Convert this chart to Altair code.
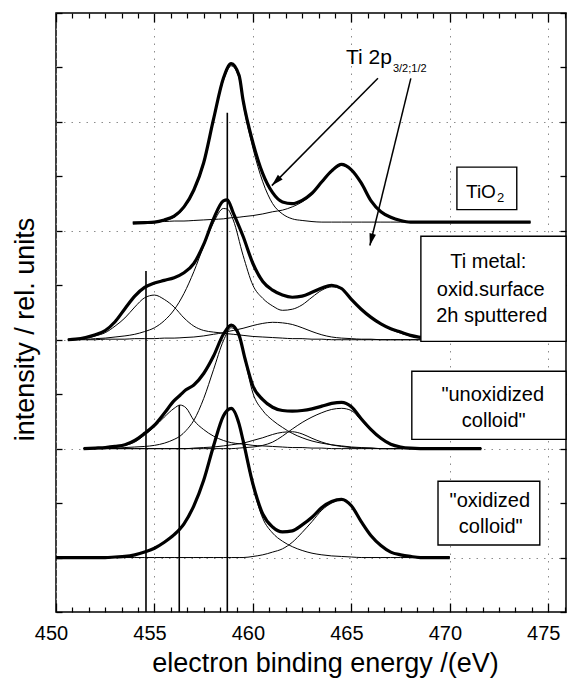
import math
import altair as alt
import pandas as pd

FONT = "Liberation Sans"
X_MIN, X_MAX = 450.0, 475.9
Y_MIN, Y_MAX = 0.0, 11.0
W, H = 510, 599

# ---------------- spectra ----------------
TIO2_X = [453.9, 454.5, 455, 455.5, 456, 456.5, 457, 457.5, 458, 458.5, 458.9, 459.3, 459.5, 460,
          460.5, 461, 461.5, 462, 462.5, 463, 463.5, 464, 464.5, 465, 465.5, 466, 466.5, 467,
          467.5, 468, 469, 470, 471, 472, 473, 474.1]
TIO2_DATA = [7.14, 7.15, 7.16, 7.2, 7.27, 7.44, 7.75, 8.25, 9.05, 9.8, 10.07, 9.85, 9.4, 8.62,
             8.05, 7.7, 7.53, 7.5, 7.56, 7.69, 7.9, 8.1, 8.22, 8.12, 7.88, 7.55, 7.35, 7.25,
             7.19, 7.16, 7.16, 7.16, 7.16, 7.16, 7.16, 7.16]
TIO2_C1 = [7.14, 7.15, 7.15, 7.19, 7.25, 7.42, 7.73, 8.22, 9.02, 9.76, 10.03, 9.8, 9.35, 8.52,
           7.9, 7.5, 7.31, 7.22, 7.19, 7.17, 7.16, 7.16, 7.16, 7.16, 7.16, 7.16, 7.16, 7.16,
           7.16, 7.16, 7.16, 7.16, 7.16, 7.16, 7.16, 7.16]
TIO2_C2 = [7.16, 7.16, 7.17, 7.17, 7.18, 7.18, 7.19, 7.2, 7.21, 7.22, 7.24, 7.25, 7.26, 7.28,
           7.31, 7.35, 7.38, 7.44, 7.53, 7.67, 7.89, 8.08, 8.2, 8.11, 7.87, 7.54, 7.34, 7.24,
           7.18, 7.16, 7.16, 7.16, 7.16, 7.16, 7.16, 7.16]

TI_X = [450.6, 451, 451.5, 452, 452.5, 453, 453.5, 454, 454.5, 455, 455.5, 456, 456.5, 457,
        457.5, 458, 458.5, 458.7, 459, 459.5, 460, 460.5, 461, 461.5, 462, 462.5, 463, 463.5,
        464, 464.5, 465, 465.5, 466, 466.5, 467, 467.5, 468, 469, 470]
TI_DATA = [5.0, 5.01, 5.04, 5.09, 5.17, 5.33, 5.57, 5.8, 5.96, 6.04, 6.09, 6.14, 6.23, 6.4,
           6.75, 7.22, 7.55, 7.57, 7.33, 6.9, 6.4, 6.07, 5.91, 5.82, 5.78, 5.8, 5.87, 5.95,
           6.0, 5.94, 5.74, 5.56, 5.41, 5.29, 5.2, 5.14, 5.08, 5.02, 5.0]
TI_C1 = [5.0, 5.01, 5.03, 5.07, 5.13, 5.25, 5.4, 5.6, 5.77, 5.82, 5.74, 5.6, 5.4, 5.25,
         5.17, 5.14, 5.12, 5.11, 5.1, 5.08, 5.06, 5.05, 5.04, 5.03, 5.02, 5.02, 5.01, 5.01,
         5.0, 5.0, 5.0, 5.0, 5.0, 5.0, 5.0, 5.0, 5.0, 5.0, 5.0]
TI_C2 = [5.0, 5.01, 5.01, 5.02, 5.03, 5.05, 5.07, 5.1, 5.15, 5.22, 5.35, 5.55, 5.85, 6.25,
         6.72, 7.15, 7.41, 7.4, 7.2, 6.55, 6.0, 5.76, 5.62, 5.54, 5.56, 5.64, 5.78, 5.91,
         5.97, 5.93, 5.74, 5.55, 5.4, 5.28, 5.19, 5.12, 5.07, 5.02, 5.0]
TI_C3 = [5.0, 5.0, 5.0, 5.0, 5.01, 5.01, 5.01, 5.02, 5.02, 5.02, 5.03, 5.03, 5.04, 5.05,
         5.07, 5.1, 5.13, 5.15, 5.17, 5.21, 5.26, 5.3, 5.32, 5.31, 5.28, 5.22, 5.15, 5.09,
         5.05, 5.03, 5.02, 5.01, 5.01, 5.0, 5.0, 5.0, 5.0, 5.0, 5.0]

UNOX_X = [451.4, 452, 452.5, 453, 453.5, 454, 454.5, 455, 455.5, 456, 456.3, 456.6, 457, 457.5,
          458, 458.5, 458.9, 459.3, 459.6, 460, 460.5, 461, 461.5, 462, 462.5, 463, 463.5, 464,
          464.5, 465, 465.5, 466, 466.5, 467, 467.5, 468, 469, 470, 471.6]
UNOX_DATA = [3.0, 3.01, 3.02, 3.04, 3.07, 3.15, 3.28, 3.43, 3.65, 3.88, 3.98, 4.08, 4.17, 4.38,
             4.7, 5.1, 5.27, 5.08, 4.65, 4.15, 3.9, 3.76, 3.7, 3.69, 3.7, 3.73, 3.78, 3.83,
             3.85, 3.77, 3.55, 3.35, 3.19, 3.08, 3.03, 3.01, 3.0, 3.0, 3.0]
UNOX_C1 = [3.0, 3.01, 3.02, 3.03, 3.06, 3.12, 3.25, 3.4, 3.58, 3.74, 3.8, 3.75, 3.52, 3.35,
           3.23, 3.15, 3.11, 3.09, 3.08, 3.06, 3.05, 3.04, 3.03, 3.02, 3.02, 3.01, 3.01, 3.0,
           3.0, 3.0, 3.0, 3.0, 3.0, 3.0, 3.0, 3.0, 3.0, 3.0, 3.0]
UNOX_C2 = [3.0, 3.0, 3.01, 3.01, 3.02, 3.03, 3.04, 3.06, 3.1, 3.17, 3.23, 3.33, 3.52, 3.92,
           4.45, 4.98, 5.22, 5.05, 4.62, 4.02, 3.7, 3.52, 3.39, 3.28, 3.2, 3.14, 3.1, 3.07,
           3.05, 3.03, 3.02, 3.01, 3.0, 3.0, 3.0, 3.0, 3.0, 3.0, 3.0]
UNOX_C3 = [3.0, 3.0, 3.0, 3.0, 3.0, 3.0, 3.0, 3.0, 3.0, 3.0, 3.0, 3.0, 3.01, 3.02,
           3.03, 3.05, 3.07, 3.09, 3.11, 3.15, 3.2, 3.26, 3.3, 3.31, 3.27, 3.19, 3.12, 3.07,
           3.04, 3.02, 3.01, 3.01, 3.0, 3.0, 3.0, 3.0, 3.0, 3.0, 3.0]
UNOX_C4 = [3.0, 3.0, 3.0, 3.0, 3.0, 3.0, 3.0, 3.0, 3.0, 3.0, 3.0, 3.0, 3.0, 3.0,
           3.0, 3.0, 3.0, 3.01, 3.02, 3.03, 3.06, 3.12, 3.23, 3.36, 3.48, 3.58, 3.66, 3.72,
           3.74, 3.7, 3.52, 3.33, 3.18, 3.08, 3.03, 3.01, 3.0, 3.0, 3.0]

OX_X = [450, 451, 452, 452.5, 453, 453.5, 454, 454.5, 455, 455.5, 456, 456.5, 457, 457.5,
        458, 458.5, 458.9, 459.3, 459.5, 460, 460.5, 461, 461.5, 462, 462.5, 463, 463.5, 464,
        464.5, 465, 465.5, 466, 466.5, 467, 467.5, 468, 468.5, 469, 470]
OX_DATA = [1.0, 1.0, 1.0, 1.0, 1.01, 1.02, 1.05, 1.1, 1.17, 1.28, 1.42, 1.62, 1.95, 2.42,
           3.05, 3.6, 3.74, 3.45, 3.15, 2.35, 1.8, 1.56, 1.47, 1.49, 1.6, 1.74, 1.92, 2.03,
           2.07, 1.95, 1.66, 1.4, 1.22, 1.1, 1.05, 1.02, 1.0, 1.0, 1.0]
OX_C1 = [1.0, 1.0, 1.0, 1.0, 1.01, 1.02, 1.05, 1.1, 1.17, 1.28, 1.42, 1.62, 1.95, 2.42,
         3.05, 3.6, 3.74, 3.44, 3.12, 2.3, 1.72, 1.45, 1.3, 1.2, 1.13, 1.08, 1.05, 1.03,
         1.02, 1.01, 1.0, 1.0, 1.0, 1.0, 1.0, 1.0, 1.0, 1.0, 1.0]
OX_C2 = [1.0, 1.0, 1.0, 1.0, 1.0, 1.0, 1.0, 1.0, 1.0, 1.0, 1.0, 1.0, 1.0, 1.0,
         1.0, 1.0, 1.0, 1.0, 1.0, 1.02, 1.05, 1.1, 1.16, 1.28, 1.46, 1.66, 1.87, 2.0,
         2.06, 1.94, 1.66, 1.4, 1.22, 1.1, 1.05, 1.02, 1.0, 1.0, 1.0]

# ---------------- annotations ----------------
VLINE_X = [454.57, 456.26, 458.70]
VLINE_TOP = [6.26, 3.80, 9.17]

BOX_X1 = [470.36, 468.53, 468.07, 469.40]
BOX_X2 = [473.40, 475.90, 475.90, 474.57]
BOX_Y1 = [7.39, 4.97, 3.17, 1.23]
BOX_Y2 = [8.17, 6.90, 4.42, 2.40]

LABEL_TEXT = ["Ti metal:", "oxid.surface", "2h sputtered", "\"unoxidized", "colloid\"",
              "\"oxidized", "colloid\""]
LABEL_X = [471.95, 472.08, 472.13, 472.18, 472.23, 472.03, 472.08]
LABEL_Y = [6.31, 5.81, 5.32, 3.87, 3.39, 1.93, 1.45]

ARROW_X1 = [466.35, 468.02]
ARROW_Y1 = [9.80, 9.80]
ARROW_X2 = [460.96, 465.94]
ARROW_Y2 = [7.83, 6.73]

X_MAJOR = [450, 455, 460, 465, 470, 475]
X_MINOR = [450 + k * 5 / 6 for k in range(1, 32) if k % 6 != 0]
Y_TICKS = list(range(0, 12))
Y_GRID = [1, 3, 5, 7, 9]

# ---------------- tables ----------------
def long_table(items):
    rows = []
    for name, xs, ys in items:
        for i, (xv, yv) in enumerate(zip(xs, ys)):
            rows.append({"curve": name, "x": xv, "y": yv, "i": i})
    return pd.DataFrame(rows)

thin_df = long_table([
    ("tio2_c1", TIO2_X, TIO2_C1), ("tio2_c2", TIO2_X, TIO2_C2),
    ("ti_c1", TI_X, TI_C1), ("ti_c2", TI_X, TI_C2), ("ti_c3", TI_X, TI_C3),
    ("unox_c1", UNOX_X, UNOX_C1), ("unox_c2", UNOX_X, UNOX_C2),
    ("unox_c3", UNOX_X, UNOX_C3), ("unox_c4", UNOX_X, UNOX_C4),
    ("ox_c1", OX_X, OX_C1), ("ox_c2", OX_X, OX_C2),
])
thick_df = long_table([
    ("tio2", TIO2_X, TIO2_DATA), ("ti", TI_X, TI_DATA),
    ("unox", UNOX_X, UNOX_DATA), ("ox", OX_X, OX_DATA),
])
vline_df = pd.DataFrame({"x": VLINE_X, "y": [0.0] * len(VLINE_X), "y2": VLINE_TOP})
box_df = pd.DataFrame({"x": BOX_X1, "x2": BOX_X2, "y": BOX_Y1, "y2": BOX_Y2})
label_df = pd.DataFrame({"x": LABEL_X, "y": LABEL_Y, "t": LABEL_TEXT})

px_x = W / (X_MAX - X_MIN)
px_y = H / (Y_MAX - Y_MIN)
angles = []
for a, b, c, d in zip(ARROW_X1, ARROW_Y1, ARROW_X2, ARROW_Y2):
    dx = (c - a) * px_x
    dy = -(d - b) * px_y
    angles.append(math.degrees(math.atan2(dx, -dy)) % 360)
arrow_df = pd.DataFrame({"x": ARROW_X1, "y": ARROW_Y1, "x2": ARROW_X2, "y2": ARROW_Y2,
                         "angle": angles})

xs = alt.Scale(domain=[X_MIN, X_MAX], nice=False, zero=False)
ys = alt.Scale(domain=[Y_MIN, Y_MAX], nice=False, zero=False)

# ---------------- axes ----------------
ax_bottom_major = alt.Axis(
    orient="bottom", values=X_MAJOR, format="d", tickSize={"expr": "-9"}, tickWidth=1.3,
    tickColor="black", domain=False, labelFont=FONT, labelFontSize=20, labelColor="black",
    labelPadding=20, labelOffset=-5, labelFlush=False, labelOverlap=False,
    grid=True, gridColor="#8c8c8c", gridDash=[1.5, 6], gridWidth=1,
    title="electron binding energy /(eV)", titleFont=FONT, titleFontSize=27,
    titleFontWeight="normal", titleColor="black", titleX=269, titleY=59,
    titleBaseline="alphabetic", titleAlign="center")
ax_bottom_minor = alt.Axis(
    orient="bottom", values=X_MINOR, tickSize={"expr": "-5"}, tickWidth=1.2,
    tickColor="black", domain=False, labels=False, grid=False, title=None)
ax_top_major = alt.Axis(
    orient="top", values=X_MAJOR, tickSize={"expr": "-9"}, tickWidth=1.3,
    tickColor="black", domain=False, labels=False, grid=False, title=None)
ax_top_minor = alt.Axis(
    orient="top", values=X_MINOR, tickSize={"expr": "-5"}, tickWidth=1.2,
    tickColor="black", domain=False, labels=False, grid=False, title=None)
ax_left = alt.Axis(
    orient="left", values=Y_TICKS, tickSize={"expr": "-6"}, tickWidth=1.3,
    tickColor="black", domain=False, labels=False, grid=False,
    title="intensity / rel. units", titleFont=FONT, titleFontSize=27,
    titleFontWeight="normal", titleColor="black", titleX=-23, titleY=316,
    titleBaseline="alphabetic", titleAlign="center", titleAngle=270)
ax_left_grid = alt.Axis(
    orient="left", values=Y_GRID, ticks=False, domain=False, labels=False,
    grid=True, gridColor="#8c8c8c", gridDash=[1.5, 6], gridWidth=1, title=None)
ax_right = alt.Axis(
    orient="right", values=Y_TICKS, tickSize={"expr": "-6"}, tickWidth=1.3,
    tickColor="black", domain=False, labels=False, grid=False, title=None)

# ---------------- layers ----------------
thin_layer = alt.Chart(thin_df).mark_line(
    color="black", strokeWidth=1.0, interpolate="monotone").encode(
    x=alt.X("x:Q", scale=xs, axis=ax_bottom_major),
    y=alt.Y("y:Q", scale=ys, axis=ax_left),
    detail="curve:N", order="i:Q")

thick_layer = alt.Chart(thick_df).mark_line(
    color="black", strokeWidth=3.2, interpolate="monotone").encode(
    x=alt.X("x:Q", scale=xs, axis=ax_bottom_minor),
    y=alt.Y("y:Q", scale=ys, axis=ax_left_grid),
    detail="curve:N", order="i:Q")

vline_layer = alt.Chart(vline_df).mark_rule(color="black", strokeWidth=1.6).encode(
    x=alt.X("x:Q", scale=xs, axis=ax_top_major),
    y=alt.Y("y:Q", scale=ys, axis=ax_right),
    y2="y2:Q")

box_layer = alt.Chart(box_df).mark_rect(
    fill="white", stroke="black", strokeWidth=1.4).encode(
    x=alt.X("x:Q", scale=xs, axis=None), x2="x2:Q",
    y=alt.Y("y:Q", scale=ys, axis=None), y2="y2:Q")

arrow_layer = alt.Chart(arrow_df).mark_rule(color="black", strokeWidth=1.5).encode(
    x=alt.X("x:Q", scale=xs, axis=ax_top_minor), x2="x2:Q",
    y=alt.Y("y:Q", scale=ys, axis=None), y2="y2:Q")

head_layer = alt.Chart(arrow_df).mark_point(
    shape="M0,0L0.36,1.3L-0.36,1.3Z", filled=True, color="black", opacity=1,
    size=340).encode(
    x=alt.X("x2:Q", scale=xs, axis=None),
    y=alt.Y("y2:Q", scale=ys, axis=None),
    angle=alt.Angle("angle:Q", scale=None))

label_layer = alt.Chart(label_df).mark_text(
    font=FONT, fontSize=20, color="black", align="center", baseline="alphabetic").encode(
    x=alt.X("x:Q", scale=xs, axis=None),
    y=alt.Y("y:Q", scale=ys, axis=None),
    text="t:N")

TIO_TEXT = ["TiO"]
TIO_SUB = ["2"]
tio_layer = alt.Chart(pd.DataFrame({"x": [472.34], "y": [7.61], "t": TIO_TEXT})).mark_text(
    font=FONT, fontSize=19, color="black", align="right", baseline="alphabetic").encode(
    x=alt.X("x:Q", scale=xs, axis=None), y=alt.Y("y:Q", scale=ys, axis=None), text="t:N")
tio_sub_layer = alt.Chart(pd.DataFrame({"x": [472.40], "y": [7.53], "t": TIO_SUB})).mark_text(
    font=FONT, fontSize=13, color="black", align="left", baseline="alphabetic").encode(
    x=alt.X("x:Q", scale=xs, axis=None), y=alt.Y("y:Q", scale=ys, axis=None), text="t:N")

TIP_TEXT = ["Ti 2p"]
TIP_SUB = ["3/2;1/2"]
tip_layer = alt.Chart(pd.DataFrame({"x": [467.06], "y": [10.07], "t": TIP_TEXT})).mark_text(
    font=FONT, fontSize=21, color="black", align="right", baseline="alphabetic").encode(
    x=alt.X("x:Q", scale=xs, axis=None), y=alt.Y("y:Q", scale=ys, axis=None), text="t:N")
tip_sub_layer = alt.Chart(pd.DataFrame({"x": [467.11], "y": [9.92], "t": TIP_SUB})).mark_text(
    font=FONT, fontSize=11, color="black", align="left", baseline="alphabetic").encode(
    x=alt.X("x:Q", scale=xs, axis=None), y=alt.Y("y:Q", scale=ys, axis=None), text="t:N")

chart = alt.layer(
    thin_layer, thick_layer, vline_layer, box_layer, arrow_layer, head_layer,
    label_layer, tio_layer, tio_sub_layer, tip_layer, tip_sub_layer
).resolve_axis(x="independent", y="independent").properties(
    width=W, height=H,
    autosize=alt.AutoSizeParams(type="none"),
    padding={"left": 56, "top": 13, "right": 2, "bottom": 67},
    background="white",
).configure_view(stroke="black", strokeWidth=1.5)

chart.save("out.html", embed_options={"renderer": "svg", "actions": False})
